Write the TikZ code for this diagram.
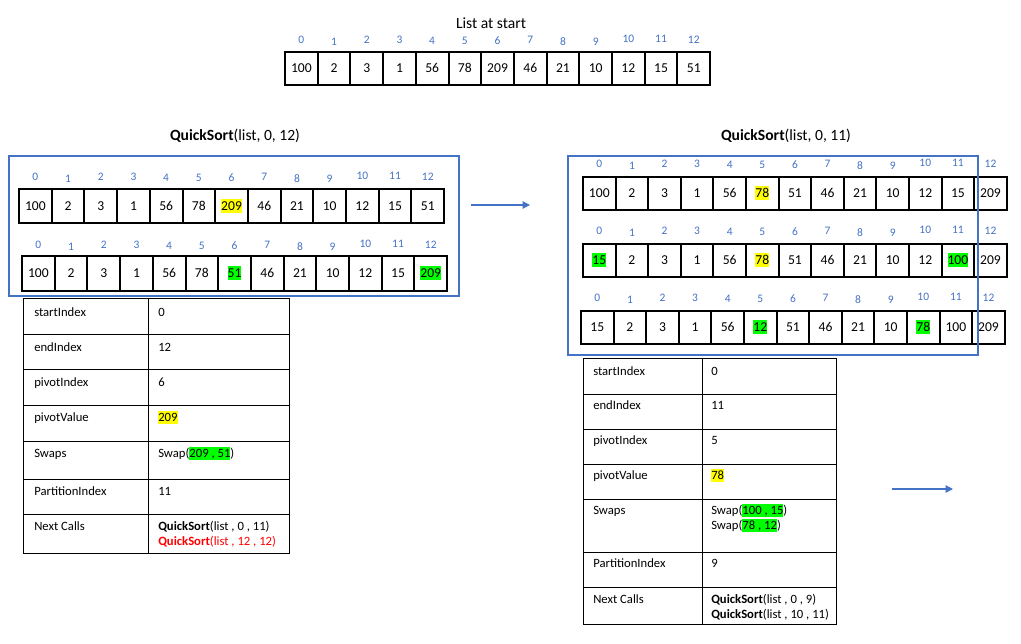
\documentclass[tikz,border=0pt]{standalone}
\usepackage{fontspec}
\setmainfont{Carlito}
\usetikzlibrary{arrows.meta,calc}
\definecolor{oblue}{HTML}{4472C4}
\definecolor{hlyel}{HTML}{FFFF00}
\definecolor{hlgrn}{HTML}{00FF00}
\newcommand\hlb[2]{{\setlength{\fboxsep}{0pt}\colorbox{#1}{\rule[-0.2em]{0pt}{1.02em}#2}}}
\tikzset{
  cell/.style={draw=black, line width=1.5pt, inner sep=0pt, outer sep=0pt, anchor=north west,
    font=\fontsize{10.2}{12}\selectfont, text height=0.82em, text depth=0.2em},
  idx/.style={text=oblue, inner sep=0pt, font=\fontsize{8.6}{10}\selectfont},
  tcell/.style={draw=black, line width=0.7pt, inner sep=0pt, outer sep=0pt, anchor=north west},
  ttext/.style={inner sep=0pt, anchor=base west, font=\fontsize{9.5}{11.4}\selectfont},
  ttl/.style={inner sep=0pt, anchor=base, font=\fontsize{11.7}{14}\selectfont},
  frame/.style={draw=oblue, line width=1.5pt},
  conn/.style={draw=oblue, line width=0.9pt, -{Triangle[length=5.5pt,width=5.5pt]}}
}
% name, x, y, w, h, label distance, values
\newcommand\cellrow[7]{%
  \foreach \v [count=\i from 0] in {#7} {
    \node[cell, minimum width=#4*0.75pt, minimum height=#5*0.75pt] (#1c\i) at ({#2+\i*#4},#3) {\v};
  }
  \foreach \i/\dd in {0/0,1/2,2/0,3/0,4/1,5/1,6/1,7/0,8/2,9/2,10/-1,11/-1,12/0} {
    \node[idx] (#1i\i) at ($(#1c\i.north)+(0,\dd-#6)$) {\i};
  }
}
\begin{document}
\begin{tikzpicture}[x=0.75pt,y=-0.75pt]
\useasboundingbox (0,0) rectangle (1021,643);
\fill[white] (0,0) rectangle (1021,643);

% ---- top list
\node[ttl] (t0) at (491,28) {List at start};
\cellrow{T}{285}{52}{32.7}{33}{12}{100,2,3,1,56,78,209,46,21,10,12,15,51}

% ---- left call
\node[ttl] (t1) at (235,140) {\textbf{QuickSort}(list, 0, 12)};
\cellrow{A}{19}{189}{32.7}{34}{12}{100,2,3,1,56,78,{\hlb{hlyel}{209}},46,21,10,12,15,51}
\cellrow{B}{22}{256}{32.7}{35}{11}{100,2,3,1,56,78,{\hlb{hlgrn}{51}},46,21,10,12,15,{\hlb{hlgrn}{209}}}
\node[frame, inner sep=0pt, outer sep=0pt, anchor=north west, minimum width={(459-9)*0.75pt}, minimum height={(296-156)*0.75pt}] (F1) at (9,156) {};

% left table
\foreach \r/\t/\b in {1/298/334,2/334/369,3/369/405,4/405/441,5/441/479,6/479/514,7/514/553} {
  \node[tcell, minimum width={(148-23)*0.75pt}, minimum height={(\b-\t)*0.75pt}] (Lk\r) at (23,\t) {};
  \node[tcell, minimum width={(289-148)*0.75pt}, minimum height={(\b-\t)*0.75pt}] (Lv\r) at (148,\t) {};
}
\node[ttext] (Lkt1) at ($(Lk1.north west)+(11,18)$) {startIndex};
\node[ttext] (Lvt1) at ($(Lv1.north west)+(10,18)$) {0};
\node[ttext] (Lkt2) at ($(Lk2.north west)+(11,17)$) {endIndex};
\node[ttext] (Lvt2) at ($(Lv2.north west)+(10,17)$) {12};
\node[ttext] (Lkt3) at ($(Lk3.north west)+(11,17)$) {pivotIndex};
\node[ttext] (Lvt3) at ($(Lv3.north west)+(10,17)$) {6};
\node[ttext] (Lkt4) at ($(Lk4.north west)+(11,16)$) {pivotValue};
\node[ttext] (Lvt4) at ($(Lv4.north west)+(10,16)$) {\hlb{hlyel}{209}};
\node[ttext] (Lkt5) at ($(Lk5.north west)+(11,16)$) {Swaps};
\node[ttext] (Lvt5) at ($(Lv5.north west)+(10,16)$) {Swap(\hlb{hlgrn}{209 , 51})};
\node[ttext] (Lkt6) at ($(Lk6.north west)+(11,16)$) {PartitionIndex};
\node[ttext] (Lvt6) at ($(Lv6.north west)+(10,16)$) {11};
\node[ttext] (Lkt7) at ($(Lk7.north west)+(11,16)$) {Next Calls};
\node[ttext] (Lvt7) at ($(Lv7.north west)+(10,16)$) {\textbf{QuickSort}(list , 0 , 11)};
\node[ttext, text=red] (Lvt7b) at ($(Lv7.north west)+(10,31)$) {\textbf{QuickSort}(list , 12 , 12)};

% arrow 1
\coordinate (a1s) at (471,205);
\coordinate (a1e) at (530,205);
\draw[conn] (a1s) -- (a1e);

% ---- right call
\node[ttl] (t2) at (786,140) {\textbf{QuickSort}(list, 0, 11)};
\cellrow{C}{583}{177}{32.6}{33}{13}{100,2,3,1,56,{\hlb{hlyel}{78}},51,46,21,10,12,15,209}
\cellrow{D}{583}{244}{32.6}{33}{13}{{\hlb{hlgrn}{15}},2,3,1,56,{\hlb{hlyel}{78}},51,46,21,10,12,{\hlb{hlgrn}{100}},209}
\cellrow{E}{581}{311}{32.6}{33}{13}{15,2,3,1,56,{\hlb{hlgrn}{12}},51,46,21,10,{\hlb{hlgrn}{78}},100,209}
\node[frame, inner sep=0pt, outer sep=0pt, anchor=north west, minimum width={(978-568)*0.75pt}, minimum height={(355-156)*0.75pt}] (F2) at (568,156) {};

% right table
\foreach \r/\t/\b in {1/358/394,2/394/429,3/429/464,4/464/499,5/499/552,6/552/587,7/587/624} {
  \node[tcell, minimum width={(702-583)*0.75pt}, minimum height={(\b-\t)*0.75pt}] (Rk\r) at (583,\t) {};
  \node[tcell, minimum width={(836-702)*0.75pt}, minimum height={(\b-\t)*0.75pt}] (Rv\r) at (702,\t) {};
}
\node[ttext] (Rkt1) at ($(Rk1.north west)+(10,17)$) {startIndex};
\node[ttext] (Rvt1) at ($(Rv1.north west)+(9,17)$) {0};
\node[ttext] (Rkt2) at ($(Rk2.north west)+(10,15)$) {endIndex};
\node[ttext] (Rvt2) at ($(Rv2.north west)+(9,15)$) {11};
\node[ttext] (Rkt3) at ($(Rk3.north west)+(10,15)$) {pivotIndex};
\node[ttext] (Rvt3) at ($(Rv3.north west)+(9,15)$) {5};
\node[ttext] (Rkt4) at ($(Rk4.north west)+(10,15)$) {pivotValue};
\node[ttext] (Rvt4) at ($(Rv4.north west)+(9,15)$) {\hlb{hlyel}{78}};
\node[ttext] (Rkt5) at ($(Rk5.north west)+(10,15)$) {Swaps};
\node[ttext] (Rvt5) at ($(Rv5.north west)+(9,15)$) {Swap(\hlb{hlgrn}{100 , 15})};
\node[ttext] (Rvt5b) at ($(Rv5.north west)+(9,30)$) {Swap(\hlb{hlgrn}{78 , 12})};
\node[ttext] (Rkt6) at ($(Rk6.north west)+(10,15)$) {PartitionIndex};
\node[ttext] (Rvt6) at ($(Rv6.north west)+(9,15)$) {9};
\node[ttext] (Rkt7) at ($(Rk7.north west)+(10,16)$) {Next Calls};
\node[ttext] (Rvt7) at ($(Rv7.north west)+(9,16)$) {\textbf{QuickSort}(list , 0 , 9)};
\node[ttext] (Rvt7b) at ($(Rv7.north west)+(9,31)$) {\textbf{QuickSort}(list , 10 , 11)};

% arrow 2
\coordinate (a2s) at (892,489);
\coordinate (a2e) at (953,489);
\draw[conn] (a2s) -- (a2e);
\end{tikzpicture}
\end{document}
